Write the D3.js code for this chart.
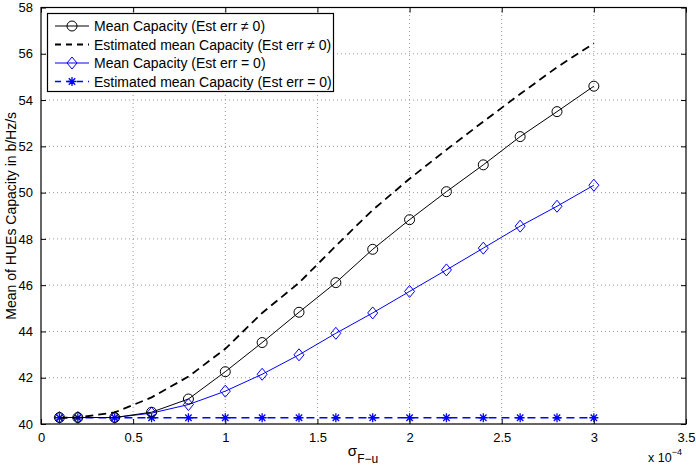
<!DOCTYPE html>
<html>
<head>
<meta charset="utf-8">
<script src="https://cdn.jsdelivr.net/npm/d3@7"></script>
<style>
  body { margin: 0; background: #fff; }
  text { font-family: "Liberation Sans", Arial, sans-serif; }
</style>
</head>
<body>
<svg class="chart" width="696" height="472"></svg>
<script>
// x values in units of 1e-4
const sigma = [0.1, 0.2, 0.4, 0.6, 0.8, 1.0, 1.2, 1.4, 1.6, 1.8, 2.0, 2.2, 2.4, 2.6, 2.8, 3.0];

const meanCapErr = [40.28, 40.28, 40.28, 40.51, 41.08, 42.26, 43.52, 44.83, 46.11, 47.55, 48.83, 50.04, 51.2, 52.42, 53.5, 54.6];
const estCapErr = [40.27, 40.28, 40.5, 41.15, 42.05, 43.25, 44.8, 46.1, 47.7, 49.25, 50.6, 51.85, 53.07, 54.26, 55.42, 56.45];
const meanCapNoErr = [40.28, 40.28, 40.28, 40.47, 40.84, 41.42, 42.15, 42.99, 43.92, 44.8, 45.73, 46.66, 47.6, 48.55, 49.41, 50.32];
const estCapNoErr = [40.27, 40.27, 40.27, 40.27, 40.27, 40.27, 40.27, 40.27, 40.27, 40.27, 40.27, 40.27, 40.27, 40.27, 40.27, 40.27];

const xTicks = [0, 0.5, 1, 1.5, 2, 2.5, 3, 3.5];
const yTicks = [40, 42, 44, 46, 48, 50, 52, 54, 56, 58];

const legendLabels = [
  "Mean Capacity (Est err \u2260 0)",
  "Estimated mean Capacity (Est err \u2260 0)",
  "Mean Capacity (Est err = 0)",
  "Estimated mean Capacity (Est err = 0)"
];

const margin = {left: 41, right: 10, top: 7.5, bottom: 48};
const width = 696, height = 472;

let svg = d3.select("svg.chart");

let x = d3.scaleLinear().domain([0, 3.5]).range([margin.left, width - margin.right]);
let y = d3.scaleLinear().domain([40, 58]).range([height - margin.bottom, margin.top]);

// grid
let grid = svg.append("g");
grid.selectAll("line.gx")
  .data(xTicks.slice(1, -1))
  .enter().append("line")
    .attr("x1", d => x(d)).attr("x2", d => x(d))
    .attr("y1", y(40)).attr("y2", y(58))
    .attr("stroke", "#999").attr("stroke-width", 1)
    .attr("stroke-dasharray", "1,3");
grid.selectAll("line.gy")
  .data(yTicks.slice(1, -1))
  .enter().append("line")
    .attr("y1", d => y(d)).attr("y2", d => y(d))
    .attr("x1", x(0)).attr("x2", x(3.5))
    .attr("stroke", "#999").attr("stroke-width", 1)
    .attr("stroke-dasharray", "1,3");

// axes (ticks inward)
svg.append("g")
  .attr("transform", `translate(0,${y(40)})`)
  .call(d3.axisBottom(x).tickValues(xTicks).tickSizeInner(-5).tickSizeOuter(0).tickPadding(9)
    .tickFormat(d3.format("")))
  .call(g => g.select(".domain").remove());
svg.append("g")
  .attr("transform", `translate(0,${y(58)})`)
  .call(d3.axisTop(x).tickValues(xTicks).tickSizeInner(-5).tickSizeOuter(0).tickFormat(""))
  .call(g => g.select(".domain").remove());
svg.append("g")
  .attr("transform", `translate(${x(0)},0)`)
  .call(d3.axisLeft(y).tickValues(yTicks).tickSizeInner(-5).tickSizeOuter(0).tickPadding(8))
  .call(g => g.select(".domain").remove());
svg.append("g")
  .attr("transform", `translate(${x(3.5)},0)`)
  .call(d3.axisRight(y).tickValues(yTicks).tickSizeInner(-5).tickSizeOuter(0).tickFormat(""))
  .call(g => g.select(".domain").remove());

svg.selectAll(".tick text").attr("font-size", 13).attr("fill", "#000")
  .style("font-family", "'Liberation Sans', Arial, sans-serif");
svg.selectAll(".tick line").attr("stroke", "#000");

svg.append("rect")
  .attr("x", x(0)).attr("y", y(58))
  .attr("width", x(3.5) - x(0)).attr("height", y(40) - y(58))
  .attr("fill", "none").attr("stroke", "#000").attr("stroke-width", 1.2);

// series
const series = [
  {vals: meanCapErr, color: "#000", dash: null, marker: "circle", width: 1},
  {vals: estCapErr, color: "#000", dash: "8,5", marker: null, width: 1.8},
  {vals: meanCapNoErr, color: "#0000ff", dash: null, marker: "diamond", width: 1},
  {vals: estCapNoErr, color: "#0000ff", dash: "8,5", marker: "star", width: 1.3}
];

let line = d3.line().x(d => x(d[0])).y(d => y(d[1]));

function drawMarker(g, type, color) {
  if (type === "circle") {
    g.append("circle").attr("r", 5).attr("fill", "none").attr("stroke", color).attr("stroke-width", 1);
  } else if (type === "diamond") {
    g.append("path").attr("d", "M0,-6L5,0L0,6L-5,0Z").attr("fill", "none").attr("stroke", color).attr("stroke-width", 1);
  } else if (type === "star") {
    g.append("path")
      .attr("d", "M-4.5,0H4.5M0,-4.5V4.5M-3.2,-3.2L3.2,3.2M-3.2,3.2L3.2,-3.2")
      .attr("stroke", color).attr("stroke-width", 1.3);
  }
}

series.slice().reverse().forEach(s => {
  let pts = sigma.map((v, i) => [v, s.vals[i]]);
  svg.append("path")
    .attr("d", line(pts))
    .attr("fill", "none")
    .attr("stroke", s.color)
    .attr("stroke-width", s.width)
    .attr("stroke-dasharray", s.dash);
  if (s.marker) {
    pts.forEach(p => {
      let g = svg.append("g").attr("transform", `translate(${x(p[0])},${y(p[1])})`);
      drawMarker(g, s.marker, s.color);
    });
  }
});

// legend
let legend = svg.append("g");
legend.append("rect")
  .attr("x", 47.5).attr("y", 13.5).attr("width", 286).attr("height", 78)
  .attr("fill", "#fff").attr("stroke", "#000").attr("stroke-width", 1.2);
series.forEach((s, i) => {
  let ly = 26 + i * 18.5;
  legend.append("line")
    .attr("x1", 55).attr("x2", 89).attr("y1", ly).attr("y2", ly)
    .attr("stroke", s.color).attr("stroke-width", s.width)
    .attr("stroke-dasharray", s.dash ? "6,5" : null);
  if (s.marker) {
    let g = legend.append("g").attr("transform", `translate(72,${ly})`);
    drawMarker(g, s.marker, s.color);
  }
  legend.append("text")
    .attr("x", 94).attr("y", ly + 5)
    .attr("font-size", 14)
    .text(legendLabels[i]);
});

// axis labels
let xl = svg.append("text")
  .attr("x", 363).attr("y", 456)
  .attr("text-anchor", "middle")
  .attr("font-size", 15);
xl.append("tspan").text("\u03c3");
xl.append("tspan").attr("font-size", 12).attr("dy", 7).text("F\u2212u");

let ex = svg.append("text")
  .attr("x", 648).attr("y", 462)
  .attr("font-size", 12.5);
ex.append("tspan").text("x 10");
ex.append("tspan").attr("font-size", 9).attr("dy", -7).text("\u22124");

svg.append("text")
  .attr("transform", `translate(16,${(y(40) + y(58)) / 2}) rotate(-90)`)
  .attr("text-anchor", "middle")
  .attr("font-size", 14)
  .text("Mean of HUEs Capacity in b/Hz/s");
</script>
</body>
</html>
